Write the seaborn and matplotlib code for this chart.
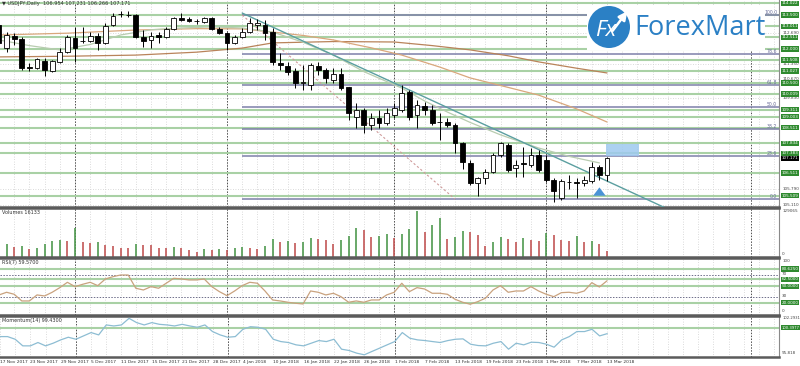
import numpy as np
import pandas as pd
import matplotlib.pyplot as plt
import seaborn as sns
from matplotlib.patches import Rectangle, Circle

# ---- data (bar 0 = 17 Nov 2017, bar 80 = 13 Mar 2018) ----
date_labels = ['17 Nov 2017', '23 Nov 2017', '29 Nov 2017', '5 Dec 2017', '11 Dec 2017', '15 Dec 2017',
               '21 Dec 2017', '28 Dec 2017', '4 Jan 2018', '10 Jan 2018', '16 Jan 2018', '22 Jan 2018',
               '26 Jan 2018', '1 Feb 2018', '7 Feb 2018', '13 Feb 2018', '19 Feb 2018', '23 Feb 2018',
               '1 Mar 2018', '7 Mar 2018', '13 Mar 2018']

opens = [113.06, 112.04, 112.57, 112.44, 111.20, 111.16, 111.47, 111.03, 111.42, 111.87,
         112.49, 112.36, 112.35, 112.57, 112.27, 113.06, 113.55, 113.50, 113.50, 112.53,
         112.40, 112.62, 112.53, 112.88, 113.37, 113.33, 113.24, 113.19, 113.37, 112.88,
         112.71, 112.27, 112.53, 112.75, 113.06, 113.06, 112.75, 111.38, 111.25, 111.03,
         110.50, 110.41, 111.25, 111.07, 110.63, 110.89, 110.32, 108.99, 109.30, 108.64,
         108.95, 108.73, 109.08, 109.30, 110.10, 109.08, 109.48, 109.30, 108.77, 108.77,
         108.64, 107.84, 106.95, 106.07, 106.29, 106.56, 107.31, 107.75, 106.73, 106.95,
         106.87, 107.31, 107.09, 106.20, 105.41, 106.12, 106.12, 106.07, 106.16, 106.78,
         106.43]
highs = [113.28, 112.75, 112.71, 112.53, 111.38, 111.60, 111.60, 111.51, 112.04, 112.62,
         112.97, 112.97, 112.75, 112.71, 113.15, 113.59, 113.68, 113.68, 113.55, 112.84,
         112.75, 112.75, 112.97, 113.42, 113.59, 113.42, 113.33, 113.42, 113.42, 112.97,
         112.75, 112.62, 112.93, 113.37, 113.33, 113.28, 112.93, 111.82, 111.42, 111.16,
         111.29, 111.38, 111.42, 111.16, 111.16, 111.16, 110.32, 109.61, 109.39, 109.17,
         109.30, 109.39, 109.61, 110.41, 110.18, 109.74, 109.65, 109.52, 109.17, 108.95,
         108.73, 107.88, 107.09, 106.34, 106.69, 107.40, 107.88, 107.84, 107.09, 107.66,
         107.62, 107.53, 107.31, 106.29, 106.25, 106.43, 106.29, 106.38, 107.00, 106.87,
         107.231]
lows = [111.96, 111.87, 112.18, 111.07, 111.03, 111.12, 110.80, 110.98, 111.38, 111.82,
        111.42, 112.27, 112.31, 111.96, 112.22, 113.02, 113.42, 113.42, 112.49, 112.09,
        112.04, 112.27, 112.49, 112.84, 113.24, 113.19, 113.11, 113.15, 112.84, 112.66,
        111.96, 112.22, 112.49, 112.71, 112.84, 112.40, 111.29, 111.07, 110.85, 110.27,
        110.18, 110.18, 110.85, 110.50, 110.50, 110.18, 108.86, 108.50, 108.28, 108.42,
        108.50, 108.64, 108.95, 109.21, 108.86, 108.50, 109.08, 108.64, 107.97, 108.55,
        107.40, 106.69, 105.98, 105.50, 106.03, 106.51, 107.22, 106.56, 106.34, 106.34,
        106.78, 106.56, 106.11, 105.23, 105.32, 105.81, 105.41, 105.94, 106.07, 106.20,
        106.16]
closes = [112.26, 112.62, 112.44, 111.16, 111.18, 111.56, 111.07, 111.47, 111.87, 112.53,
          112.04, 112.35, 112.57, 112.27, 113.02, 113.46, 113.56, 113.52, 112.53, 112.35,
          112.57, 112.53, 112.88, 113.37, 113.28, 113.24, 113.23, 113.37, 112.88, 112.71,
          112.27, 112.53, 112.75, 113.15, 113.15, 112.71, 111.42, 111.29, 110.98, 110.50,
          110.52, 111.29, 111.07, 110.72, 110.89, 110.27, 109.17, 109.30, 108.64, 108.95,
          108.73, 109.17, 109.39, 110.05, 108.99, 109.52, 109.30, 108.73, 108.79, 108.64,
          107.84, 107.00, 106.07, 106.29, 106.56, 107.31, 107.84, 106.65, 106.87, 106.91,
          107.31, 106.65, 106.20, 105.72, 106.16, 106.13, 106.07, 106.20, 106.78, 106.43,
          107.171]
volumes = [31100, 35900, 26300, 31100, 21700, 23400, 34700, 44300, 47200, 44300,
           81900, 42400, 39500, 40400, 33000, 31100, 25400, 23400, 35900, 33000,
           31600, 25400, 24900, 26000, 25100, 18900, 12100, 20600, 18900, 21700,
           18900, 25400, 26300, 25400, 20600, 31100, 48900, 42400, 44300, 39500,
           42400, 51700, 50000, 46000, 34700, 47200, 58500, 79900, 76200, 54500,
           59300, 63000, 53700, 64100, 77100, 129065, 70600, 89500, 108200, 48900,
           54500, 72600, 70600, 61300, 31100, 42400, 55600, 50000, 40400, 53700,
           46000, 44300, 65800, 61300, 48000, 44300, 58500, 40400, 45200, 35900,
           16133]
rsi = [34.2, 39.0, 35.4, 23.4, 23.4, 34.2, 32.4, 39.0, 47.3, 56.9,
       49.1, 53.3, 56.9, 50.9, 62.9, 67.0, 70.0, 70.0, 46.2, 43.1,
       49.1, 46.2, 55.2, 64.1, 62.9, 61.1, 61.1, 62.9, 49.1, 40.1,
       32.9, 41.3, 50.9, 56.9, 55.2, 41.3, 25.2, 23.4, 21.1, 19.3,
       18.0, 41.3, 39.0, 34.2, 37.2, 31.1, 21.1, 23.4, 21.1, 25.2,
       25.2, 34.2, 39.0, 55.2, 40.1, 47.3, 44.9, 37.2, 37.2, 35.4,
       26.5, 21.1, 17.5, 22.2, 28.3, 43.1, 50.9, 39.0, 41.3, 41.3,
       49.1, 41.3, 35.4, 31.1, 38.3, 39.0, 37.2, 41.3, 56.2, 48.5,
       59.57]
momentum = [98.96, 98.96, 98.54, 97.49, 97.49, 98.02, 97.49, 97.91, 98.44, 98.86,
            98.54, 99.07, 99.60, 99.23, 100.81, 100.65, 100.81, 101.86, 101.18, 100.81,
            101.18, 100.91, 100.81, 100.65, 100.91, 100.65, 100.44, 100.81, 99.76, 99.23,
            98.86, 98.96, 100.12, 100.53, 100.44, 100.12, 98.54, 98.17, 98.02, 97.65,
            97.49, 97.91, 98.33, 98.17, 98.54, 96.96, 96.75, 96.33, 96.07, 96.60,
            97.12, 97.65, 98.17, 99.60, 98.70, 98.44, 98.33, 98.17, 98.02, 98.33,
            98.54, 98.60, 97.75, 97.54, 97.49, 97.91, 98.17, 96.96, 97.91, 97.65,
            98.07, 98.02, 97.75, 97.28, 98.44, 98.96, 99.76, 99.76, 100.12, 99.07,
            99.43]

# moving averages, read at a few bars
ma_long_bars = [0, 9, 18, 26, 32, 36, 44, 52, 57, 62, 67, 71, 76, 80]
ma_long = [111.65, 111.68, 111.73, 111.86, 112.04, 112.27, 112.33, 112.31, 112.15, 111.96, 111.70, 111.43, 111.15, 110.94]
ma_mid_bars = [0, 9, 18, 26, 32, 36, 40, 44, 49, 53, 58, 62, 67, 71, 76, 80]
ma_mid = [112.62, 112.70, 112.84, 112.90, 112.89, 112.75, 112.60, 112.40, 112.05, 111.73, 111.20, 110.72, 110.30, 109.96, 109.35, 108.77]
ma_short_bars = [0, 4, 8, 12, 16, 20, 24, 28, 32, 36, 40, 44, 48, 53, 56, 59, 62, 66, 69, 71, 75, 79]
ma_short = [112.40, 112.15, 111.96, 112.20, 112.62, 112.85, 112.93, 112.98, 112.93, 112.75, 112.30, 111.73,
            111.00, 110.27, 109.70, 109.21, 108.75, 108.20, 107.85, 107.62, 107.25, 106.96]

# support / resistance levels (green) and fibo retracement
levels = [114.022, 113.500, 113.011, 112.511, 112.000, 111.508, 111.027, 110.500, 110.009,
          109.311, 109.003, 108.511, 107.834, 107.383, 106.511, 105.509]
grid_prices = [112.690, 111.350, 110.670, 109.830, 105.790, 105.110]
fib_names = ['0.0', '23.6', '38.2', '50.0', '61.8', '78.6', '100.0']
fib_ratios = [0.0, 0.236, 0.382, 0.5, 0.618, 0.786, 1.0]
fib_low, fib_high = 105.36, 113.50
trend_bars = [32, 90]
trend_prices = [113.59, 104.61]

rsi_levels = [80.625, 62.5, 50.0, 20.0]
rsi_level_labels = ['80.6250', '62.5000', '50.0000', '20.0000']
mom_level = 100.3977

# ---------------------------------------------------------------------
df = pd.DataFrame({'bar': np.arange(len(closes)), 'open': opens, 'high': highs,
                   'low': lows, 'close': closes, 'volume': volumes, 'rsi': rsi,
                   'momentum': momentum})

sns.set_style('white')
plt.rcParams['font.family'] = ['DejaVu Sans']

W, H = 800, 366
fig = plt.figure(figsize=(W / 100, H / 100), dpi=100)
fig.patch.set_facecolor('white')


def panel(top, bottom):
    return fig.add_axes([0, 1 - bottom / H, 779 / W, (bottom - top) / H])


ax_p = panel(0, 207)
ax_v = panel(207.5, 256.5)
ax_r = panel(257.5, 314.5)
ax_m = panel(315.5, 356.5)
axes = [ax_p, ax_v, ax_r, ax_m]

xmin, xmax = 1 / 7.6, 780 / 7.6
sep = '#5b5b5b'
grid_c = '#cfcfcf'
green_line = '#a9d1a5'
green_box = '#2f8a2f'
lab_c = '#444444'
fs_r = 3.0

for ax in axes:
    ax.set_xlim(xmin, xmax)
    ax.set_facecolor('white')
    ax.set_xticks([])
    ax.set_yticks([])
    for s in ['left', 'top']:
        ax.spines[s].set_visible(False)
    ax.spines['right'].set_color('#8a8a8a')
    ax.spines['right'].set_linewidth(0.8)
    ax.spines['bottom'].set_color(sep)
    ax.spines['bottom'].set_linewidth(1.8)
    for b in range(0, 104, 2):
        ax.axvline(b, color=grid_c, lw=0.6, ls=(0, (1, 2)), zorder=0)
    for b in [10, 30, 52, 72, 99]:
        ax.axvline(b, color='#505050', lw=0.7, ls=(0, (1.5, 1.5)), zorder=1)
for ax in [ax_v, ax_r, ax_m]:
    ax.spines['top'].set_visible(True)
    ax.spines['top'].set_color(sep)
    ax.spines['top'].set_linewidth(1.8)


def right_label(ax, y, text, kind='plain'):
    tr = ax.get_yaxis_transform()
    fs = fs_r if len(text) < 8 else 2.7
    if kind in ('green', 'black'):
        fc = green_box if kind == 'green' else 'black'
        ax.text(1.003, y, text, transform=tr, fontsize=fs, color='white', va='center', ha='left',
                bbox=dict(boxstyle='square,pad=0.15', fc=fc, ec='none'), zorder=10 if kind == 'green' else 11)
    else:
        ax.text(1.004, y, text, transform=tr, fontsize=fs, color=lab_c, va='center', ha='left')


# ---- main price panel ----
ax_p.set_ylim(105.009, 114.168)
for g in grid_prices:
    ax_p.axhline(g, color=grid_c, lw=0.6, ls=(0, (1, 2)), zorder=0)
for lv in levels:
    ax_p.axhline(lv, color=green_line, lw=1.5, zorder=1)
for name, r in zip(fib_names, fib_ratios):
    fp = fib_low + r * (fib_high - fib_low)
    ax_p.hlines(fp, 32, xmax, color='#7d80aa', lw=1.1, zorder=2)
    ax_p.text(102.4, fp, name, fontsize=3.3, color='#6a6d99', ha='right', va='bottom', zorder=13)
ax_p.plot([32, 60], [fib_high, fib_low], color='#cf9a9a', lw=0.8, ls=(0, (2, 2)), zorder=2)

sns.lineplot(x=ma_long_bars, y=ma_long, ax=ax_p, color='#b9835a', lw=0.9, zorder=3)
sns.lineplot(x=ma_mid_bars, y=ma_mid, ax=ax_p, color='#d9a77c', lw=0.9, zorder=3)
sns.lineplot(x=ma_short_bars, y=ma_short, ax=ax_p, color='#b8ccb0', lw=0.9, zorder=3)
ax_p.plot(trend_bars, trend_prices, color='#5b9fa0', lw=1.0, zorder=3)

up = df['close'] >= df['open']
ax_p.vlines(df['bar'], df['low'], df['high'], color='black', lw=0.7, zorder=4)
body = (df['close'] - df['open']).abs().clip(lower=0.012)
ax_p.bar(df['bar'], body, bottom=df[['open', 'close']].min(axis=1), width=0.64,
         color=np.where(up, 'white', 'black'), edgecolor='black', lw=0.6, zorder=5)

ax_p.add_patch(Rectangle((79.9, 107.27), 4.3, 0.53, fc='#9ec9ef', ec='none', alpha=0.85, zorder=6))
ax_p.annotate('', xy=(79, 106.0), xytext=(79, 105.6),
              arrowprops=dict(arrowstyle='simple,head_width=0.9,head_length=0.6,tail_width=0.45',
                              fc='#4a93d6', ec='none'), zorder=7)

for lv in levels:
    right_label(ax_p, lv, f'{lv:.3f}', 'green')
for g in grid_prices:
    right_label(ax_p, g, f'{g:.3f}')
right_label(ax_p, closes[-1], f'{closes[-1]:.3f}', 'black')
ax_p.text(0.003, 0.993, '\u25bc USDJPY,Daily  106.954 107.231 106.266 107.171', transform=ax_p.transAxes,
          fontsize=3.6, color='#333333', va='top', ha='left', zorder=12)

# ---- volumes ----
ax_v.set_ylim(0, 139000)
vcol = ['#4f9a4f'] + ['#4f9a4f' if volumes[i] >= volumes[i - 1] else '#c25656' for i in range(1, len(volumes))]
ax_v.vlines(df['bar'], 0, df['volume'], colors=vcol, lw=1.2)
ax_v.text(0.003, 0.95, f'Volumes {volumes[-1]}', transform=ax_v.transAxes, fontsize=3.5,
          color='#333333', va='top')
right_label(ax_v, 129065, '129065')
right_label(ax_v, 6000, '0')

# ---- RSI ----
ax_r.set_ylim(-0.9, 101.4)
for lv in rsi_levels:
    ax_r.axhline(lv, color=green_line, lw=1.5, zorder=1)
for lv in [70, 30]:
    ax_r.axhline(lv, color='#6e6e8a', lw=0.7, ls=(0, (1.5, 1.5)), zorder=1)
sns.lineplot(data=df, x='bar', y='rsi', ax=ax_r, color='#c9a27e', lw=0.9, zorder=3)
ax_r.text(0.003, 0.96, f'RSI(7) {rsi[-1]:.4f}', transform=ax_r.transAxes, fontsize=3.5,
          color='#333333', va='top')
right_label(ax_r, 95, '100')
for lv, t in zip(rsi_levels, rsi_level_labels):
    right_label(ax_r, lv, t, 'green')
right_label(ax_r, 72, '70')
right_label(ax_r, 32, '30')
right_label(ax_r, 6, '0')

# ---- momentum ----
ax_m.set_ylim(95.80, 102.31)
ax_m.axhline(mom_level, color=green_line, lw=1.5, zorder=1)
sns.lineplot(data=df, x='bar', y='momentum', ax=ax_m, color='#8dbdd3', lw=0.9, zorder=3)
ax_m.text(0.003, 0.95, f'Momentum(14) {momentum[-1]:.4f}', transform=ax_m.transAxes, fontsize=3.5,
          color='#333333', va='top')
right_label(ax_m, 101.9, '102.2931')
right_label(ax_m, mom_level, f'{mom_level:.4f}', 'green')
right_label(ax_m, 96.3, '95.818')

for ax in axes:
    ax.set_xlabel('')
    ax.set_ylabel('')
    ax.set_xlim(xmin, xmax)

ax_m.set_xticks(np.arange(0, 81, 4))
ax_m.set_xticklabels(date_labels, fontsize=3.2, ha='left', color='#333333')
ax_m.tick_params(axis='x', length=1.5, width=0.5, pad=1.0, color='#777777')

# ---- logo ----
ov = fig.add_axes([0, 0, 1, 1])
ov.set_xlim(0, W)
ov.set_ylim(H, 0)
ov.axis('off')
ov.patch.set_alpha(0)
ov.add_patch(Rectangle((587, 5), 178, 45, fc='white', ec='none'))
ov.add_patch(Circle((609, 27), 21, fc='#2b80c5', ec='none'))
ov.text(606, 30, 'Fx', fontsize=16, color='white', ha='center', va='center', family='Open Sans',
        style='italic')
ov.annotate('', xy=(629, 9), xytext=(611, 33),
            arrowprops=dict(arrowstyle='-|>,head_width=0.25,head_length=0.5', color='white', lw=1.8))
ov.text(634, 28, 'ForexMart', fontsize=19.5, color='#2b80c5', ha='left', va='center', family='Open Sans')

fig.savefig('out.png', dpi=100, facecolor='white')
